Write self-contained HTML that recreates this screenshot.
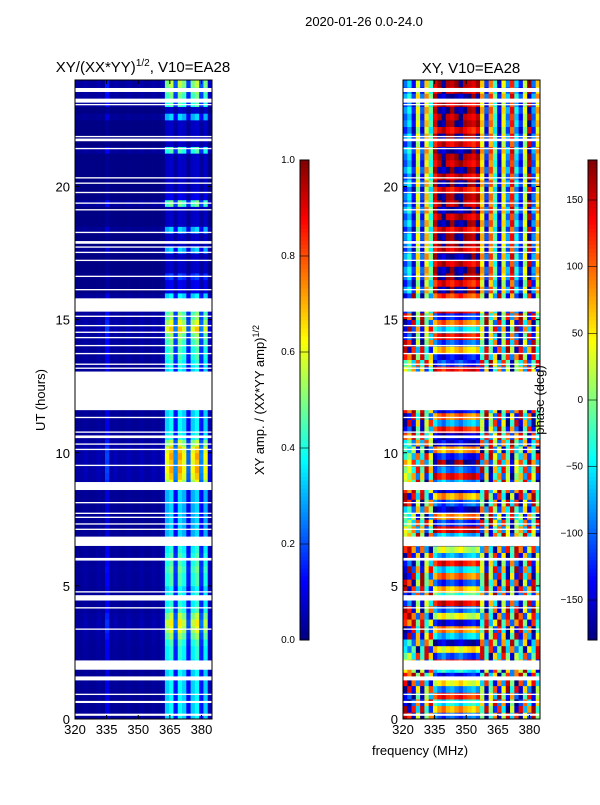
<!DOCTYPE html>
<html><head><meta charset="utf-8"><style>
body{margin:0;background:#fff;width:600px;height:800px;overflow:hidden}
svg{font-family:"Liberation Sans",sans-serif}
</style></head><body>
<svg id="fig" width="600" height="800" xmlns="http://www.w3.org/2000/svg">
<text x="364" y="26" font-size="13" text-anchor="middle">2020-01-26 0.0-24.0</text>
<text x="143" y="72" font-size="15" text-anchor="middle">XY/(XX*YY)<tspan font-size="10" dy="-6">1/2</tspan><tspan dy="6">, V10=EA28</tspan></text>
<text x="471" y="73" font-size="15" text-anchor="middle">XY, V10=EA28</text>
<text transform="translate(45,400) rotate(-90)" font-size="13" text-anchor="middle">UT (hours)</text>
<text x="420" y="755" font-size="13" text-anchor="middle">frequency (MHz)</text>
<text transform="translate(264,400) rotate(-90)" font-size="13" text-anchor="middle">XY amp. / (XX*YY amp)<tspan font-size="9" dy="-5">1/2</tspan></text>
<g id="left"></g>
<g id="right"></g>
<text transform="translate(544,400) rotate(-90)" font-size="13" text-anchor="middle">phase (deg)</text>
<g id="cb1"></g>
<g id="cb2"></g>
<g id="axes"></g>
</svg>
<script>
const freqTicks=[320,335,350,365,380];
const hourTicks=[0,5,10,15,20];
const ampTicks=[0.0,0.2,0.4,0.6,0.8,1.0];
const phaseTicks=[-150,-100,-50,0,50,100,150];
const ampChan=[0.02,0.02,0.03,0.02,0.02,0.03,0.02,0.1,0.02,0.03,0.02,0.02,0.03,0.02,0.02,0.03,0.02,0.02,0.03,0.02,0.04,0.33,0.38,0.14,0.38,0.33,0.12,0.33,0.38,0.14,0.33,0.05];
const rowGain=[1,1,1,1, 1,1,1,1, 1,1.1,1.1,1.2, 1.4,1.6,1.7,1.5, 1.2,1.1,1.1,1, 1.2,1.2,1.3,1.2, 1.2,1.1,1,0.9, 0.9,0.9,0.9,0.9, 0.9,0.9,0.9,1.6, 1.8,1.9,1.8,1.9, 1.8,1.5,1.1,1, 1,1,1,1, 1,1,1,1, 1,1.1,1.2,1.2, 1.3,1.4,1.8,1.6, 1.4,1.3,1.1,1, 0.3,0.3,0.5,0.2, 0.2,0.2,0.9,0.2, 0.2,0.9,0.2,0.2, 0.2,1.3,0.3,0.2, 0.2,0.2,0.2,0.2, 0.2,1.2,0.2,0.2, 0.2,0.2,0.9,0.2, 1.2,1.3,1.4,1.5];
const chanPhase=[-100,-60,-140,30,-120,60,-30,140,170,-170,160,150,170,-175,160,150,140,165,60,-120,90,-30,-150,40,-90,120,-60,-130,20,170,-100,60];
const rowPhase=[60,-90,120,-40,80,-120,30,150,-60,90,-150,40,100,-80,20,-130,70,-20,140,-100,50,-70,110,-30,90,-140,10,130,-50,80,-110,40,60,-90,20,120,-60,100,-20,70,-120,50,10,-40,90,-70,30,60,0,0,0,0,-60,80,30,-100,60,-30,110,-70,40,-20,90,-50,20,-30,10,25,-15,30,-20,5,15,-25,20,-10,30,-5,10,-30,20,-15,25,-10,5,30,-20,15,-25,10,-5,20,-15,30,-10,5];
const flags=[[0.12,0.2],[0.6,0.68],[0.9,0.95],[1.45,1.6],[1.85,2.2],[3.35,3.4],[4.15,4.2],[4.45,4.65],[4.75,4.8],[5.95,6.05],[6.5,6.85],[7.1,7.15],[7.3,7.35],[7.55,7.6],[7.7,7.75],[8.1,8.15],[8.6,8.9],[9.5,9.55],[10.1,10.15],[10.3,10.35],[10.55,10.65],[10.75,10.8],[11.3,11.35],[11.6,13.05],[13.15,13.2],[13.3,13.35],[13.7,13.75],[14.0,14.05],[14.3,14.35],[14.5,14.55],[14.75,14.8],[15.1,15.15],[15.3,15.8],[16.1,16.15],[16.6,16.65],[17.2,17.25],[17.5,17.55],[17.7,17.75],[17.85,17.95],[18.25,18.3],[19.1,19.15],[19.35,19.4],[19.75,19.8],[20.1,20.15],[20.3,20.35],[21.4,21.45],[21.7,21.8],[21.85,21.9],[23.05,23.1],[23.15,23.3],[23.55,23.7]];

const NS="http://www.w3.org/2000/svg";
const F0=320,F1=385,T0=0,T1=24,Y0=719,Y1=80;
function xs(f,x0){return x0+(f-F0)/(F1-F0)*137;}
function ys(h){return Y0-(h-T0)/(T1-T0)*(Y0-Y1);}
function cl(v){return Math.max(0,Math.min(1,v));}
function jet(v){v=cl(v);const r=cl(1.5-Math.abs(4*v-3)),g=cl(1.5-Math.abs(4*v-2)),b=cl(1.5-Math.abs(4*v-1));return `rgb(${Math.round(r*255)},${Math.round(g*255)},${Math.round(b*255)})`;}
function mk(tag,at,par){const e=document.createElementNS(NS,tag);for(const k in at)e.setAttribute(k,at[k]);par.appendChild(e);return e;}
function wrap(p){return ((p+180)%360+360)%360-180;}

const nC=ampChan.length,nR=rowGain.length,df=(F1-F0)/nC,dh=(T1-T0)/nR;
function heat(gid,x0,val){
  const g=document.getElementById(gid);
  for(let r=0;r<nR;r++)for(let c=0;c<nC;c++){
    const xa=xs(F0+c*df,x0),xb=xs(F0+(c+1)*df,x0),ya=ys(T0+(r+1)*dh),yb=ys(T0+r*dh);
    const e=mk('rect',{x:xa.toFixed(2),y:ya.toFixed(2),width:(xb-xa+0.4).toFixed(2),height:(yb-ya+0.4).toFixed(2),fill:val(r,c)},g);
    
    
  }
  flags.forEach(f=>{const e=mk('rect',{x:x0,y:ys(f[1]),width:137,height:ys(f[0])-ys(f[1]),fill:'#fff'},g);
    
    });
}
heat('left',75,(r,c)=>jet(ampChan[c]*rowGain[r]));
heat('right',403,(r,c)=>{const ph=wrap(rowPhase[r]+chanPhase[c]*(r>=64?1:(r%2?1:-1)));return jet((ph+180)/360);});

const ax=document.getElementById('axes');
[75,403].forEach((x0,i)=>{
  const fr=mk('rect',{x:x0,y:Y1,width:137,height:Y0-Y1,fill:'none',stroke:'#000','stroke-width':1},ax);
  
  
  freqTicks.forEach(f=>{const x=xs(f,x0);
    mk('line',{x1:x,x2:x,y1:Y0,y2:Y0-4,stroke:'#000'},ax);mk('line',{x1:x,x2:x,y1:Y1,y2:Y1+4,stroke:'#000'},ax);
    const t=mk('text',{x:x,y:Y0+15,'font-size':13,'text-anchor':'middle'},ax);t.textContent=f;
    
    });
  hourTicks.forEach(h=>{const y=ys(h);
    mk('line',{x1:x0,x2:x0+4,y1:y,y2:y,stroke:'#000'},ax);mk('line',{x1:x0+137,x2:x0+133,y1:y,y2:y,stroke:'#000'},ax);
    const t=mk('text',{x:x0-5,y:y+5,'font-size':13,'text-anchor':'end'},ax);t.textContent=h;
    
    });
});
function cbar(gid,x0,lo,hi,ticks,fmt){
  const g=document.getElementById(gid);const n=120;
  for(let i=0;i<n;i++){const y=640-(i+1)*480/n;mk('rect',{x:x0,y:y,width:9,height:480/n+0.5,fill:jet((i+0.5)/n)},g);}
  mk('rect',{x:x0,y:160,width:9,height:480,fill:'none',stroke:'#000'},g);
  ticks.forEach(v=>{const y=640-(v-lo)/(hi-lo)*480;
    mk('line',{x1:x0,x2:x0+9,y1:y,y2:y,stroke:'#000','stroke-width':0.6},g);
    const t=mk('text',{x:x0-5,y:y+3,'font-size':10,'text-anchor':'end'},g);t.textContent=fmt(v);
    
    });
}
cbar('cb1',300,0,1,ampTicks,v=>v.toFixed(1));
cbar('cb2',588,-180,180,phaseTicks,v=>v<0?'\u2212'+(-v):''+v);
</script>
</body></html>
